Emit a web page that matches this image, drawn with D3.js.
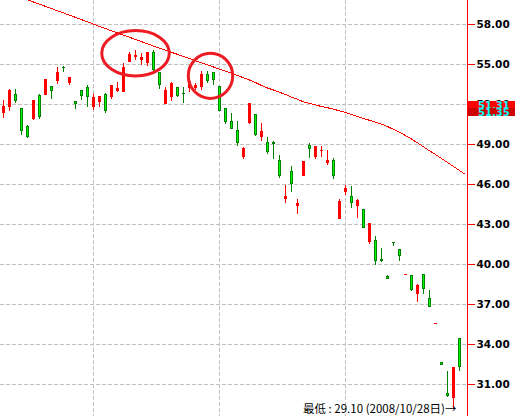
<!DOCTYPE html>
<html>
<head>
<meta charset="utf-8">
<script src="https://cdn.jsdelivr.net/npm/d3@7/dist/d3.min.js"></script>
<style>
  html, body { margin: 0; padding: 0; background: #fff; }
  svg { display: block; }
</style>
</head>
<body>
<svg id="chart" width="515" height="416"></svg>
<script>
// ---- data ----
const opens  = [51.32,51.77,52.72,51.65,50.32,50.82,52.64,52.64,53.32,53.71,54.77,53.52,52.22,52.99,53.22,51.77,52.10,52.72,52.46,52.94,52.89,55.14,55.51,55.27,55.02,55.89,54.34,51.97,52.52,53.22,52.83,53.15,53.15,53.27,54.22,54.39,53.32,51.65,50.70,50.02,48.02,50.57,51.22,49.52,49.12,49.12,47.77,44.87,46.95,44.35,46.60,48.90,48.02,48.45,47.57,47.77,43.35,45.40,45.08,44.33,44.08,41.65,41.78,40.36,39.08,41.61,41.09,39.22,39.14,37.74,39.23,37.41,35.53,32.62,30.30,29.97,34.42];
const highs  = [52.27,53.09,53.09,51.67,50.40,52.27,52.72,53.84,53.32,54.76,54.84,53.99,52.22,53.02,53.39,52.72,52.57,52.82,53.39,53.64,55.02,55.89,56.01,55.81,55.84,56.01,54.39,53.27,53.64,53.22,53.27,53.77,53.54,54.46,54.46,54.39,53.32,51.65,51.32,50.70,48.77,52.02,51.22,50.57,49.52,49.20,48.15,45.90,47.33,44.85,47.70,49.03,48.82,48.82,48.52,47.95,44.85,45.90,45.83,44.85,44.08,43.03,42.08,41.16,39.16,41.62,41.11,39.24,39.16,38.49,39.23,38.04,35.55,32.62,31.99,32.29,34.44];
const lows   = [50.94,51.47,52.04,49.65,49.40,50.77,50.85,52.64,52.34,53.47,54.39,53.42,51.59,52.27,51.77,51.52,51.77,51.27,52.34,52.89,52.89,55.14,55.27,54.89,54.84,54.39,53.07,51.97,52.22,52.47,52.02,52.89,53.02,53.02,53.52,53.39,51.47,50.47,50.07,48.85,47.85,50.45,49.57,49.20,48.22,47.85,46.40,44.53,45.40,43.73,46.60,47.89,47.87,48.02,47.40,46.35,43.35,45.15,44.20,43.45,42.72,41.48,39.91,40.11,38.88,41.35,40.21,39.22,37.96,37.16,37.74,36.78,35.53,32.42,30.04,29.10,31.99];
const closes = [51.82,53.02,52.22,49.97,49.52,52.27,51.02,53.84,52.97,54.37,54.75,53.97,51.97,52.59,52.47,52.47,52.57,51.47,53.39,53.15,54.72,55.71,55.64,55.51,55.84,54.52,53.39,53.02,53.52,52.59,52.81,53.71,53.37,54.22,53.71,53.77,51.47,50.64,50.07,49.03,48.65,52.02,49.65,49.95,48.40,48.95,46.58,45.08,45.95,44.58,47.70,48.58,48.82,48.52,47.77,46.60,44.70,45.68,44.58,44.78,42.72,43.03,40.23,40.21,38.88,41.60,40.58,39.24,38.04,38.41,38.13,36.80,35.55,32.42,30.10,32.29,32.25];
const maLine = [60.43,60.28,60.12,59.95,59.78,59.61,59.45,59.28,59.12,58.95,58.79,58.62,58.46,58.29,58.13,57.96,57.78,57.62,57.45,57.29,57.12,56.97,56.80,56.64,56.48,56.31,56.16,56.00,55.84,55.69,55.53,55.37,55.21,55.06,54.90,54.74,54.58,54.43,54.27,54.10,53.94,53.77,53.58,53.36,53.17,53.02,52.85,52.68,52.49,52.32,52.13,52.01,51.90,51.78,51.69,51.58,51.46,51.33,51.18,51.03,50.88,50.75,50.62,50.47,50.28,50.07,49.85,49.61,49.35,49.06,48.76,48.46,48.19,47.89,47.59,47.29,46.99,46.69];
const monthStarts = [15, 36, 57];
const yTicks = [58, 55, 52, 49, 46, 43, 40, 37, 34, 31];
const valueTags = ["51.31", "51.35"];
const lowText = "最低 : 29.10 (2008/10/28日)→";
const lowIndex = 75;
// hand-drawn circle annotations: centre (slot index, price) and radii (slots, price)
const circles = [
  {i: 22.0, p: 55.77, ri: 5.63, rp: 1.70},
  {i: 34.5, p: 54.08, ri: 3.70, rp: 1.69}
];

// ---- layout ----
const W = 515, H = 416;
const axisX = 467;
const svg = d3.select("#chart");

const x = d3.scaleBand().domain(d3.range(maLine.length)).range([0.5, 0.5 + 6 * maLine.length]).paddingInner(0);
const cx = i => x(i) + x.bandwidth() / 2;               // pixel centre (n + .5)
const y = d3.scaleLinear().domain([58, 31]).range([23.5, 384]);
const ry = v => Math.round(y(v));

// grid
const grid = svg.append("g").attr("stroke", "#c0c0c0").attr("stroke-width", 1).attr("stroke-dasharray", "4,2");
grid.selectAll("line.h").data(yTicks).join("line").attr("class", "h")
  .attr("x1", 0).attr("x2", axisX - 1)
  .attr("y1", d => ry(d) + 0.5).attr("y2", d => ry(d) + 0.5);
grid.selectAll("line.v").data(monthStarts).join("line").attr("class", "v")
  .attr("x1", d => cx(d)).attr("x2", d => cx(d))
  .attr("y1", 0).attr("y2", H);

// moving average
const ma = d3.line().x((d, i) => cx(i)).y(d => y(d));
svg.append("path").datum(maLine).attr("d", ma)
  .attr("fill", "none").attr("stroke", "#ff0000").attr("stroke-width", 1)
  .attr("shape-rendering", "crispEdges");

// candles
const candles = opens.map((o, i) => ({i, o, h: highs[i], l: lows[i], c: closes[i]}));
const RED = "#ff0000", GFILL = "#00ff00", GDARK = "#008000";
const cg = svg.append("g").attr("shape-rendering", "crispEdges");
candles.forEach(d => {
  const up = d.c >= d.o;
  const col = Math.floor(cx(d.i));
  const g = cg.append("g");
  g.append("line")
    .attr("x1", col + 0.5).attr("x2", col + 0.5)
    .attr("y1", ry(d.h)).attr("y2", Math.max(ry(d.l), ry(d.h) + 1))
    .attr("stroke", up ? RED : GDARK).attr("stroke-width", 1);
  const top = ry(Math.max(d.o, d.c));
  const bot = Math.max(ry(Math.min(d.o, d.c)), top + 1);
  if (up) {
    g.append("rect").attr("x", col - 1).attr("width", 3)
      .attr("y", top).attr("height", bot - top).attr("fill", RED);
  } else if (bot - top >= 3) {
    g.append("rect").attr("x", col - 0.5).attr("width", 2)
      .attr("y", top + 0.5).attr("height", bot - top - 1)
      .attr("fill", GFILL).attr("stroke", GDARK).attr("stroke-width", 1);
  } else {
    g.append("rect").attr("x", col - 1).attr("width", 3)
      .attr("y", top).attr("height", bot - top).attr("fill", GDARK);
  }
});

// circles
svg.append("g").selectAll("ellipse").data(circles).join("ellipse")
  .attr("cx", d => cx(0) + d.i * x.step())
  .attr("cy", d => y(d.p))
  .attr("rx", d => d.ri * x.step())
  .attr("ry", d => y(d.p - d.rp) - y(d.p))
  .attr("fill", "none").attr("stroke", "#ed1c24").attr("stroke-width", 3);

// right axis
const axis = d3.axisRight(y).tickValues(yTicks).tickFormat(d3.format(".2f")).tickSize(7).tickPadding(2);
const ag = svg.append("g").attr("transform", `translate(${axisX + 0.5},0.5)`).call(axis);
ag.select(".domain").remove();
ag.selectAll(".tick").attr("transform", d => `translate(0,${ry(d)})`);
ag.selectAll(".tick line").attr("stroke", "#ff0000").attr("shape-rendering", "crispEdges");
ag.selectAll(".tick text").attr("fill", "#000")
  .style("font-family", "'DejaVu Sans', Verdana, sans-serif")
  .style("font-weight", "bold").style("font-size", "10.5px");
svg.append("line").attr("x1", axisX + 0.5).attr("x2", axisX + 0.5).attr("y1", 0).attr("y2", H)
  .attr("stroke", "#ff0000").attr("stroke-width", 1).attr("shape-rendering", "crispEdges");

// value tags (second tag sits at its value, first one stacked just above it)
const tagY = Math.round(y(+valueTags[1]));
const tags = [
  {t: valueTags[0], top: tagY - 11, fill: "#ff0000"},
  {t: valueTags[1], top: tagY - 4, fill: "#cc0000"}
];
tags.forEach(d => {
  svg.append("rect").attr("x", axisX + 1).attr("y", d.top).attr("width", W - axisX).attr("height", 8).attr("fill", d.fill);
  svg.append("text").attr("x", 478).attr("y", d.top + 7.5).text(d.t)
    .attr("fill", "#00ffff")
    .style("font-family", "'DejaVu Sans', Verdana, sans-serif")
    .style("font-weight", "bold").style("font-size", "10px");
});

// low annotation
svg.append("text")
  .attr("x", cx(lowIndex) + 3).attr("y", 413)
  .attr("text-anchor", "end")
  .style("font-family", "'Noto Sans CJK TC', 'Noto Sans', sans-serif")
  .style("font-size", "11.5px")
  .attr("fill", "#000")
  .text(lowText);
</script>
</body>
</html>
